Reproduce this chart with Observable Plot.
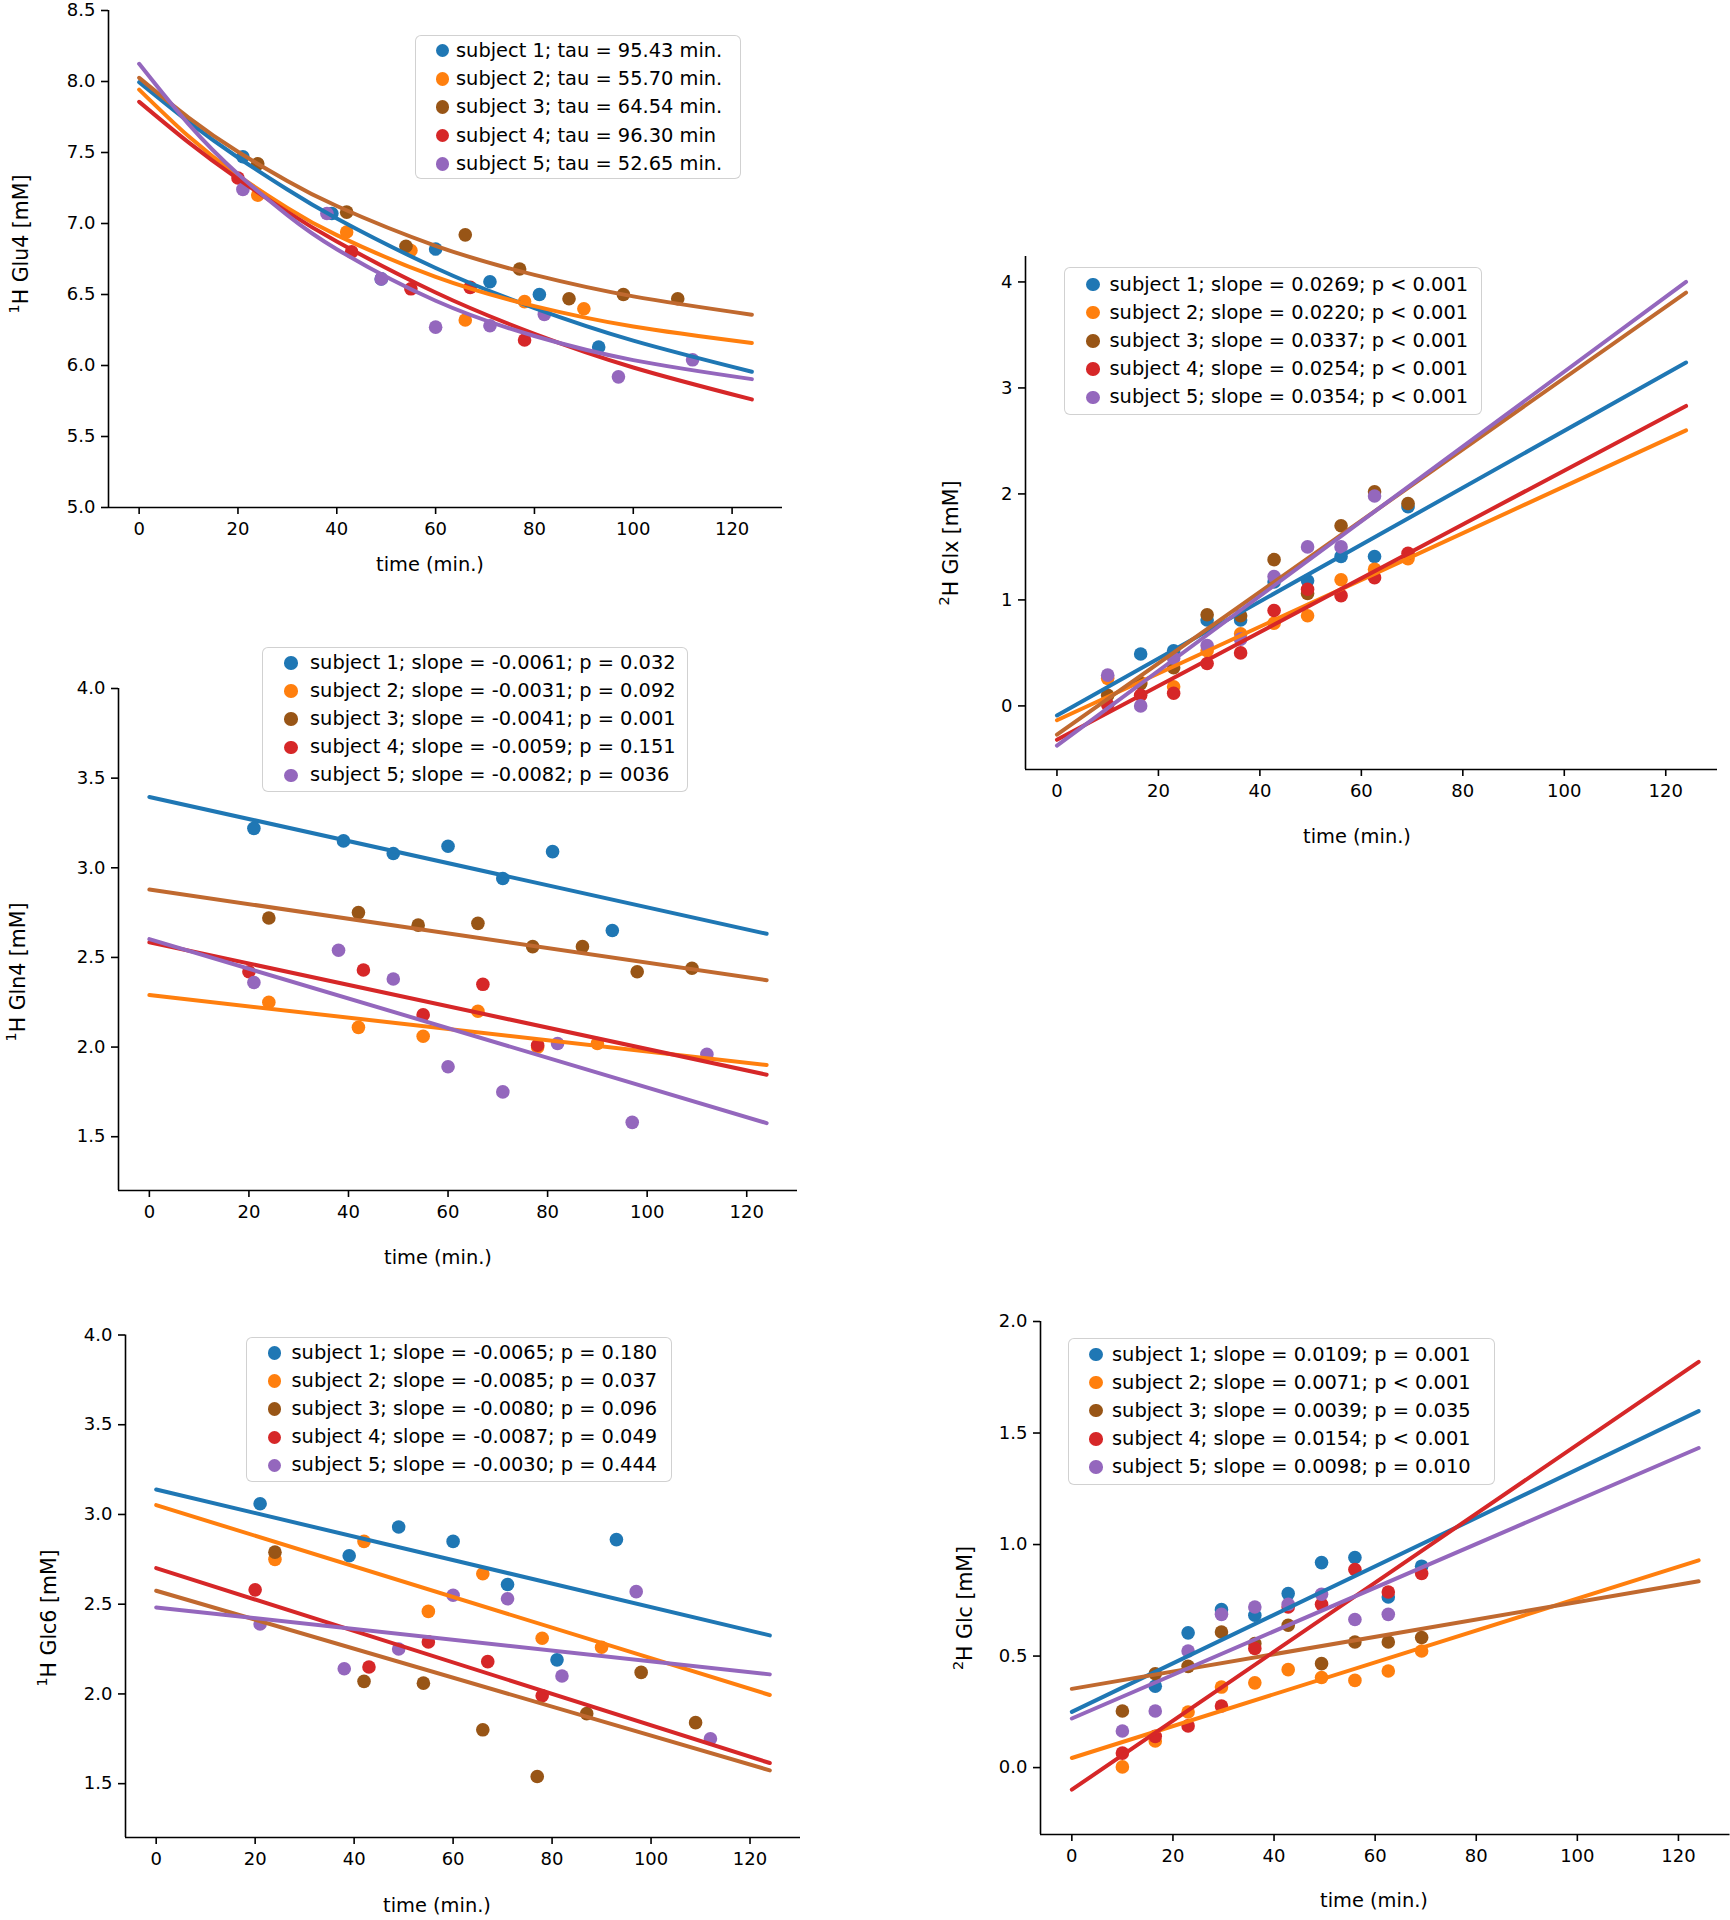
<!DOCTYPE html>
<html><head><meta charset="utf-8">
<script src="https://cdn.jsdelivr.net/npm/d3@7"></script>
<script src="https://cdn.jsdelivr.net/npm/@observablehq/plot@0.6"></script>
<style>
body{margin:0;background:#fff;}
#root{position:relative;width:1730px;height:1920px;overflow:hidden;font-family:"DejaVu Sans",sans-serif;color:#000;background:#fff;}
.panel{position:absolute;}
.legend{position:absolute;box-sizing:border-box;border:1.6px solid rgba(204,204,204,0.9);border-radius:6px;background:rgba(255,255,255,0.8);}
.legend .row{position:absolute;height:28px;line-height:28px;font-size:19.4px;white-space:nowrap;}
.legend .dot{position:absolute;width:13.6px;height:13.6px;border-radius:50%;}
.ylab{position:absolute;font-size:20.5px;white-space:nowrap;transform:translate(-50%,-50%) rotate(-90deg);line-height:1;}
.ylab sup{font-size:0.7em;vertical-align:0.62em;line-height:0;}
.xlab{position:absolute;font-size:19.4px;white-space:nowrap;transform:translate(-50%,-50%);line-height:1;}
</style></head>
<body><div id="root"></div>
<script>
// ---------- shared ----------
const subjects = ["subject 1", "subject 2", "subject 3", "subject 4", "subject 5"];
const dotColors = ["#1f77b4", "#ff7f0e", "#985516", "#d62728", "#9467bd"];
const lineColors = ["#1f77b4", "#ff7f0e", "#c0692f", "#d62728", "#9467bd"];
const xDomain = [-6.2, 130.2];
const xTicks = [0, 20, 40, 60, 80, 100, 120];
const xLabel = "time (min.)";

// 1H measurement times per subject (min)
const h1Times = [
  [21, 39, 49, 60, 71, 81, 93],
  [24, 42, 55, 66, 78, 90],
  [24, 42, 54, 66, 77, 87, 98, 109],
  [20, 43, 55, 67, 78],
  [21, 38, 49, 60, 71, 82, 97, 112]
];
// 2H measurement times (min)
const h2Times = [10, 16.5, 23, 29.6, 36.2, 42.8, 49.4, 56, 62.6, 69.2];

// ---------- panel 1: 1H Glu4 ----------
const glu4Values = [
  [7.47, 7.07, 6.61, 6.82, 6.59, 6.50, 6.13],
  [7.20, 6.94, 6.81, 6.32, 6.45, 6.40],
  [7.42, 7.08, 6.84, 6.92, 6.68, 6.47, 6.50, 6.47],
  [7.32, 6.80, 6.54, 6.55, 6.18],
  [7.24, 7.07, 6.61, 6.27, 6.28, 6.36, 5.92, 6.04]
];
const glu4FitTimes = [0, 10, 20, 30, 40, 60, 80, 100, 124];
const glu4Fit = [
  [7.995, 7.716, 7.465, 7.239, 7.035, 6.687, 6.404, 6.175, 5.956],
  [7.943, 7.614, 7.339, 7.110, 6.918, 6.624, 6.418, 6.274, 6.158],
  [8.026, 7.746, 7.505, 7.300, 7.123, 6.843, 6.638, 6.487, 6.358],
  [7.857, 7.571, 7.314, 7.082, 6.873, 6.514, 6.223, 5.986, 5.761],
  [8.125, 7.700, 7.349, 7.059, 6.819, 6.456, 6.208, 6.038, 5.904]
];
const glu4Legend = ["subject 1; tau = 95.43 min.", "subject 2; tau = 55.70 min.", "subject 3; tau = 64.54 min.", "subject 4; tau = 96.30 min", "subject 5; tau = 52.65 min."];
const glu4YTicks = [5.0, 5.5, 6.0, 6.5, 7.0, 7.5, 8.0, 8.5];

// ---------- panel 2: 2H Glx ----------
const glxValues = [
  [null, 0.49, 0.52, 0.81, 0.81, 1.17, 1.18, 1.41, 1.41, 1.88],
  [0.26, 0.22, 0.18, 0.52, 0.68, 0.78, 0.85, 1.19, 1.29, 1.39],
  [0.10, 0.21, 0.36, 0.86, 0.85, 1.38, 1.06, 1.70, 2.02, 1.91],
  [0.01, 0.10, 0.12, 0.40, 0.50, 0.90, 1.10, 1.04, 1.21, 1.44],
  [0.29, 0.00, 0.45, 0.57, 0.63, 1.22, 1.50, 1.50, 1.98, null]
];
const fitEnds = [0, 124];
const glxFit = [[-0.09, 3.24], [-0.135, 2.60], [-0.27, 3.90], [-0.32, 2.83], [-0.375, 4.00]];
const glxLegend = ["subject 1; slope = 0.0269; p < 0.001", "subject 2; slope = 0.0220; p < 0.001", "subject 3; slope = 0.0337; p < 0.001", "subject 4; slope = 0.0254; p < 0.001", "subject 5; slope = 0.0354; p < 0.001"];
const glxYTicks = [0, 1, 2, 3, 4];

// ---------- panel 3: 1H Gln4 ----------
const gln4Values = [
  [3.22, 3.15, 3.08, 3.12, 2.94, 3.09, 2.65],
  [2.25, 2.11, 2.06, 2.20, 2.00, 2.02],
  [2.72, 2.75, 2.68, 2.69, 2.56, 2.56, 2.42, 2.44],
  [2.42, 2.43, 2.18, 2.35, 2.01],
  [2.36, 2.54, 2.38, 1.89, 1.75, 2.02, 1.58, 1.96]
];
const gln4Fit = [[3.395, 2.632], [2.290, 1.900], [2.879, 2.373], [2.585, 1.846], [2.602, 1.576]];
const gln4Legend = ["subject 1; slope = -0.0061; p = 0.032", "subject 2; slope = -0.0031; p = 0.092", "subject 3; slope = -0.0041; p = 0.001", "subject 4; slope = -0.0059; p = 0.151", "subject 5; slope = -0.0082; p = 0036"];
const h1YTicks = [1.5, 2.0, 2.5, 3.0, 3.5, 4.0];

// ---------- panel 4: 1H Glc6 ----------
const glc6Values = [
  [3.06, 2.77, 2.93, 2.85, 2.61, 2.19, 2.86],
  [2.75, 2.85, 2.46, 2.67, 2.31, 2.26],
  [2.79, 2.07, 2.06, 1.80, 1.54, 1.89, 2.12, 1.84],
  [2.58, 2.15, 2.29, 2.18, 1.99],
  [2.39, 2.14, 2.25, 2.55, 2.53, 2.10, 2.57, 1.75]
];
const glc6Fit = [[3.139, 2.326], [3.052, 1.994], [2.575, 1.574], [2.701, 1.615], [2.482, 2.109]];
const glc6Legend = ["subject 1; slope = -0.0065; p = 0.180", "subject 2; slope = -0.0085; p = 0.037", "subject 3; slope = -0.0080; p = 0.096", "subject 4; slope = -0.0087; p = 0.049", "subject 5; slope = -0.0030; p = 0.444"];

// ---------- panel 5: 2H Glc ----------
const glcValues = [
  [null, 0.365, 0.604, 0.708, 0.683, 0.780, 0.919, 0.942, 0.765, 0.903],
  [0.003, 0.119, 0.249, 0.361, 0.380, 0.439, 0.404, 0.391, 0.433, 0.523],
  [0.254, 0.421, 0.454, 0.608, 0.556, 0.638, 0.466, 0.563, 0.563, 0.583],
  [0.065, 0.140, 0.187, 0.276, 0.534, 0.720, 0.732, 0.888, 0.787, 0.870],
  [0.164, 0.254, 0.523, 0.687, 0.720, 0.732, 0.777, 0.664, 0.687, null]
];
const glcFit = [[0.250, 1.598], [0.043, 0.929], [0.353, 0.835], [-0.099, 1.819], [0.220, 1.433]];
const glcLegend = ["subject 1; slope = 0.0109; p = 0.001", "subject 2; slope = 0.0071; p < 0.001", "subject 3; slope = 0.0039; p = 0.035", "subject 4; slope = 0.0154; p < 0.001", "subject 5; slope = 0.0098; p = 0.010"];
const glcYTicks = [0.0, 0.5, 1.0, 1.5, 2.0];

// ---------- drawing ----------
const root = document.getElementById("root");

function drawPanel(cfg) {
  const marks = [];
  for (let s = 0; s < subjects.length; s++) {
    const times = Array.isArray(cfg.times[0]) ? cfg.times[s] : cfg.times;
    const rows = times.map((t, i) => ({t, v: cfg.values[s][i]})).filter(d => d.v != null);
    marks.push(Plot.dot(rows, {x: "t", y: "v", r: 6.8, fill: dotColors[s], stroke: "none"}));
  }
  for (let s = 0; s < subjects.length; s++) {
    const rows = cfg.fitTimes.map((t, i) => ({t, v: cfg.fit[s][i]}));
    marks.push(Plot.line(rows, {x: "t", y: "v", stroke: lineColors[s], strokeWidth: 4, curve: cfg.curve || "linear"}));
  }
  marks.push(Plot.ruleX([xDomain[0]], {stroke: "black", strokeWidth: 1.6}));
  marks.push(Plot.ruleY([cfg.yDomain[0]], {stroke: "black", strokeWidth: 1.6}));
  marks.push(Plot.axisX({ticks: xTicks, tickSize: 7, tickPadding: 8, strokeWidth: 1.6, label: null, fontSize: 18, fill: "black"}));
  marks.push(Plot.axisY({ticks: cfg.yTicks, tickFormat: cfg.yFormat, tickSize: 7, tickPadding: 6, strokeWidth: 1.6, label: null, fontSize: 18, fill: "black"}));
  const svg = Plot.plot({
    width: cfg.width, height: cfg.height,
    marginLeft: cfg.mL, marginRight: cfg.mR, marginTop: cfg.mT, marginBottom: cfg.mB,
    x: {domain: xDomain},
    y: {domain: cfg.yDomain},
    style: {fontFamily: "DejaVu Sans", fontSize: "18px", color: "black", background: "transparent", overflow: "visible", maxWidth: "none"},
    marks
  });
  const div = document.createElement("div");
  div.className = "panel";
  Object.assign(div.style, {left: cfg.left + "px", top: cfg.top + "px", width: cfg.width + "px", height: cfg.height + "px"});
  div.appendChild(svg);
  root.appendChild(div);

  // legend
  const lg = document.createElement("div");
  lg.className = "legend";
  const b = cfg.legendBox;
  Object.assign(lg.style, {left: b[0] + "px", top: b[1] + "px", width: b[2] + "px", height: b[3] + "px"});
  cfg.legend.forEach((txt, i) => {
    const cy = cfg.legendRow0 + i * cfg.legendStep;
    const dot = document.createElement("div");
    dot.className = "dot";
    Object.assign(dot.style, {left: (cfg.legendDotX - 6.8) + "px", top: (cy - 6.8) + "px", background: dotColors[i]});
    lg.appendChild(dot);
    const row = document.createElement("div");
    row.className = "row";
    Object.assign(row.style, {left: cfg.legendTextX + "px", top: (cy - 14) + "px"});
    row.textContent = txt;
    lg.appendChild(row);
  });
  root.appendChild(lg);

  const yl = document.createElement("div");
  yl.className = "ylab";
  Object.assign(yl.style, {left: cfg.ylabPos[0] + "px", top: cfg.ylabPos[1] + "px"});
  const sup = document.createElement("sup");
  sup.textContent = cfg.ylab[0];
  yl.appendChild(sup);
  yl.appendChild(document.createTextNode(cfg.ylab[1]));
  root.appendChild(yl);

  const xl = document.createElement("div");
  xl.className = "xlab";
  Object.assign(xl.style, {left: cfg.xlabPos[0] + "px", top: cfg.xlabPos[1] + "px"});
  xl.textContent = xLabel;
  root.appendChild(xl);
}

// legend box geometry: [left, top, width, height] in page px (layout, not data)
drawPanel({
  left: 0, top: 0, width: 790, height: 600, mL: 108, mR: 8, mT: 10, mB: 93,
  yDomain: [5.0, 8.5], yTicks: glu4YTicks, yFormat: d3.format(".1f"),
  times: h1Times, values: glu4Values, fitTimes: glu4FitTimes, fit: glu4Fit, curve: "natural",
  legend: glu4Legend, legendBox: [415, 35, 326, 144], legendDotX: 26.5, legendTextX: 40, legendRow0: 14.6, legendStep: 28.3,
  ylab: ["1", "H Glu4 [mM]"], ylabPos: [21, 244], xlabPos: [430, 565]
});
drawPanel({
  left: 930, top: 230, width: 800, height: 640, mL: 95, mR: 13, mT: 26, mB: 101,
  yDomain: [-0.6, 4.24], yTicks: glxYTicks, yFormat: d3.format("d"),
  times: h2Times, values: glxValues, fitTimes: fitEnds, fit: glxFit,
  legend: glxLegend, legendBox: [1064, 267, 418, 148], legendDotX: 28, legendTextX: 44.5, legendRow0: 16.5, legendStep: 28.2,
  ylab: ["2", "H Glx [mM]"], ylabPos: [951, 543], xlabPos: [1357, 837]
});
drawPanel({
  left: 0, top: 640, width: 805, height: 640, mL: 118, mR: 8, mT: 48, mB: 90,
  yDomain: [1.2, 4.0], yTicks: h1YTicks, yFormat: d3.format(".1f"),
  times: h1Times, values: gln4Values, fitTimes: fitEnds, fit: gln4Fit,
  legend: gln4Legend, legendBox: [262, 647, 426, 145], legendDotX: 28, legendTextX: 47, legendRow0: 15, legendStep: 28.1,
  ylab: ["1", "H Gln4 [mM]"], ylabPos: [18, 972], xlabPos: [438, 1258]
});
drawPanel({
  left: 0, top: 1300, width: 810, height: 620, mL: 125, mR: 10, mT: 34.5, mB: 83,
  yDomain: [1.2, 4.0], yTicks: h1YTicks, yFormat: d3.format(".1f"),
  times: h1Times, values: glc6Values, fitTimes: fitEnds, fit: glc6Fit,
  legend: glc6Legend, legendBox: [246, 1337, 426, 145], legendDotX: 27.5, legendTextX: 44.5, legendRow0: 15, legendStep: 28.1,
  ylab: ["1", "H Glc6 [mM]"], ylabPos: [49, 1618], xlabPos: [437, 1906]
});
drawPanel({
  left: 940, top: 1290, width: 790, height: 630, mL: 100, mR: 0.5, mT: 31, mB: 86,
  yDomain: [-0.3, 2.0], yTicks: glcYTicks, yFormat: d3.format(".1f"),
  times: h2Times, values: glcValues, fitTimes: fitEnds, fit: glcFit,
  legend: glcLegend, legendBox: [1068, 1338, 427, 147], legendDotX: 27, legendTextX: 43, legendRow0: 15.5, legendStep: 28.1,
  ylab: ["2", "H Glc [mM]"], ylabPos: [965, 1608], xlabPos: [1374, 1901]
});
</script>
</body></html>
